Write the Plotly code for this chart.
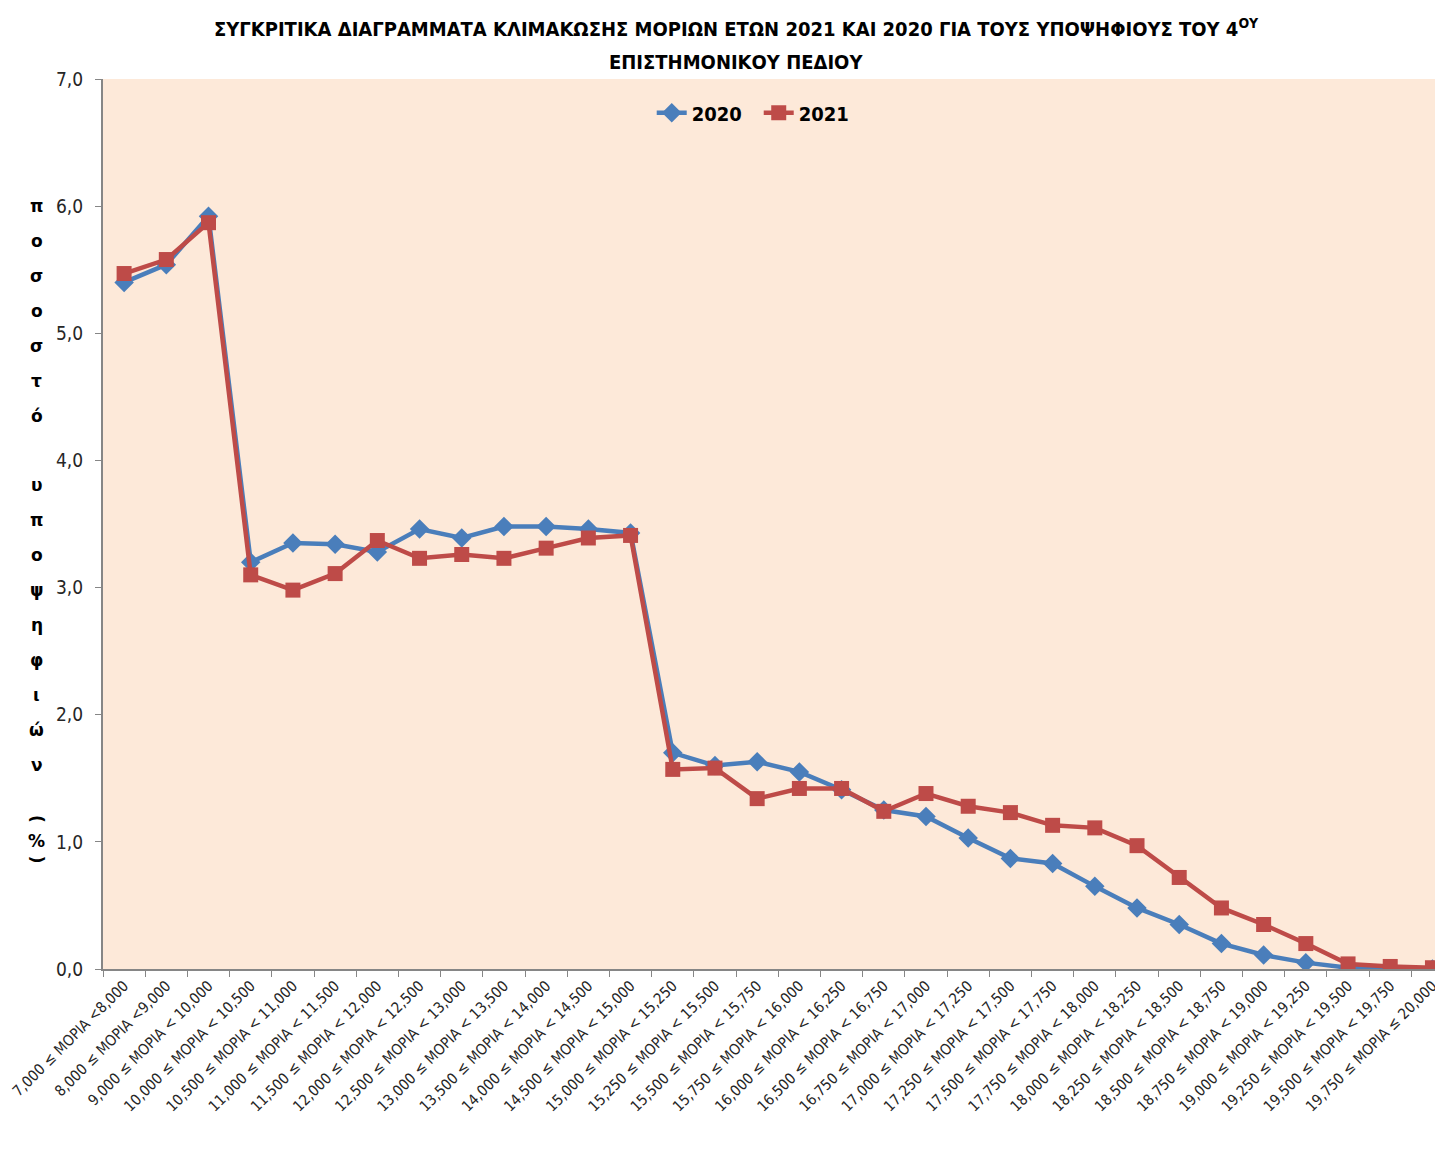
import plotly.graph_objects as go

categories = [
    "7,000 ≤ ΜΟΡΙΑ <8,000", "8,000 ≤ ΜΟΡΙΑ <9,000", "9,000 ≤ ΜΟΡΙΑ < 10,000",
    "10,000 ≤ ΜΟΡΙΑ < 10,500", "10,500 ≤ ΜΟΡΙΑ < 11,000", "11,000 ≤ ΜΟΡΙΑ < 11,500",
    "11,500 ≤ ΜΟΡΙΑ < 12,000", "12,000 ≤ ΜΟΡΙΑ < 12,500", "12,500 ≤ ΜΟΡΙΑ < 13,000",
    "13,000 ≤ ΜΟΡΙΑ < 13,500", "13,500 ≤ ΜΟΡΙΑ < 14,000", "14,000 ≤ ΜΟΡΙΑ < 14,500",
    "14,500 ≤ ΜΟΡΙΑ < 15,000", "15,000 ≤ ΜΟΡΙΑ < 15,250", "15,250 ≤ ΜΟΡΙΑ < 15,500",
    "15,500 ≤ ΜΟΡΙΑ < 15,750", "15,750 ≤ ΜΟΡΙΑ < 16,000", "16,000 ≤ ΜΟΡΙΑ < 16,250",
    "16,500 ≤ ΜΟΡΙΑ < 16,750", "16,750 ≤ ΜΟΡΙΑ < 17,000", "17,000 ≤ ΜΟΡΙΑ < 17,250",
    "17,250 ≤ ΜΟΡΙΑ < 17,500", "17,500 ≤ ΜΟΡΙΑ < 17,750", "17,750 ≤ ΜΟΡΙΑ < 18,000",
    "18,000 ≤ ΜΟΡΙΑ < 18,250", "18,250 ≤ ΜΟΡΙΑ < 18,500", "18,500 ≤ ΜΟΡΙΑ < 18,750",
    "18,750 ≤ ΜΟΡΙΑ < 19,000", "19,000 ≤ ΜΟΡΙΑ < 19,250", "19,250 ≤ ΜΟΡΙΑ < 19,500",
    "19,500 ≤ ΜΟΡΙΑ < 19,750", "19,750 ≤ ΜΟΡΙΑ ≤ 20,000",
]

values_2020 = [5.40, 5.54, 5.92, 3.20, 3.35, 3.34, 3.28, 3.46, 3.39, 3.48, 3.48, 3.46,
               3.43, 1.70, 1.60, 1.63, 1.55, 1.41, 1.25, 1.20, 1.03, 0.87, 0.83, 0.65,
               0.48, 0.35, 0.20, 0.11, 0.05, 0.01, 0.00, 0.00]

values_2021 = [5.47, 5.58, 5.87, 3.10, 2.98, 3.11, 3.37, 3.23, 3.26, 3.23, 3.31, 3.39,
               3.41, 1.57, 1.58, 1.34, 1.42, 1.42, 1.24, 1.38, 1.28, 1.23, 1.13, 1.11,
               0.97, 0.72, 0.48, 0.35, 0.20, 0.04, 0.02, 0.01]

y_ticks = [0, 1, 2, 3, 4, 5, 6, 7]

title_line1 = "ΣΥΓΚΡΙΤΙΚΑ ΔΙΑΓΡΑΜΜΑΤΑ ΚΛΙΜΑΚΩΣΗΣ ΜΟΡΙΩΝ ΕΤΩΝ 2021 ΚΑΙ 2020 ΓΙΑ ΤΟΥΣ ΥΠΟΨΗΦΙΟΥΣ ΤΟΥ 4<sup>ΟΥ</sup>"
title_line2 = "ΕΠΙΣΤΗΜΟΝΙΚΟΥ ΠΕΔΙΟΥ"
y_label_chars = ["π", "ο", "σ", "ο", "σ", "τ", "ό", "", "υ", "π", "ο", "ψ", "η", "φ", "ι", "ώ", "ν"]

FONT = "DejaVu Sans Condensed, sans-serif"
BLUE = "#4A7EBB"
RED = "#BE4B48"

fig = go.Figure()
fig.add_trace(go.Scatter(
    x=categories, y=values_2020, name="2020", mode="lines+markers",
    line=dict(color=BLUE, width=4.5),
    marker=dict(symbol="diamond", size=15, color=BLUE),
))
fig.add_trace(go.Scatter(
    x=categories, y=values_2021, name="2021", mode="lines+markers",
    line=dict(color=RED, width=4.5),
    marker=dict(symbol="square", size=15, color=RED),
))

annotations = [
    dict(text=title_line1, x=0.4724, y=1.0573, xref="paper", yref="paper",
         showarrow=False, xanchor="center", yanchor="middle",
         font=dict(family=FONT, size=20, color="#000000", weight="bold")),
    dict(text=title_line2, x=0.4724, y=1.0191, xref="paper", yref="paper",
         showarrow=False, xanchor="center", yanchor="middle",
         font=dict(family=FONT, size=20, color="#000000", weight="bold")),
]
step = 0.2745
for k, ch in enumerate(y_label_chars):
    if ch:
        annotations.append(dict(text=ch, x=-0.0493, y=6 - k * step,
                                xref="paper", yref="y", showarrow=False,
                                xanchor="center", yanchor="middle",
                                font=dict(family="DejaVu Sans", size=17, color="#000000", weight="bold")))
for ch, yy, ang in [("(", 1.18, 90), ("%", 1.01, 0), (")", 0.86, 90)]:
    annotations.append(dict(text=ch, x=-0.0493, y=yy, textangle=ang,
                            xref="paper", yref="y", showarrow=False,
                            xanchor="center", yanchor="middle",
                            font=dict(family="DejaVu Sans", size=17, color="#000000", weight="bold")))

fig.update_layout(
    width=1435, height=1134,
    margin=dict(l=95, r=0, t=71, b=173),
    paper_bgcolor="#FFFFFF",
    plot_bgcolor="#FDE9D9",
    separators=",.",
    showlegend=True,
    legend=dict(orientation="h", x=0.4095, y=0.962, xanchor="left", yanchor="middle",
                bgcolor="rgba(0,0,0,0)",
                font=dict(family=FONT, size=20, color="#000000", weight="bold"),
                itemwidth=30, tracegroupgap=0, entrywidth=62, entrywidthmode="pixels"),
    annotations=annotations,
    xaxis=dict(
        type="category", range=[-0.5, 31.25], tickangle=-45, automargin=False,
        tickson="boundaries", ticks="outside", ticklen=6, tickcolor="#868686",
        showline=True, linecolor="#868686", linewidth=2, showgrid=False,
        tickfont=dict(family=FONT, size=15, color="#262626"),
    ),
    yaxis=dict(
        range=[0, 7], tickvals=y_ticks, tickformat=".1f", automargin=False,
        ticks="outside", ticklen=6, tickcolor="#868686", ticklabelstandoff=8,
        showline=True, linecolor="#868686", linewidth=2, showgrid=False, zeroline=False,
        tickfont=dict(family=FONT, size=19, color="#262626"),
    ),
)

fig.write_html("out.html")
